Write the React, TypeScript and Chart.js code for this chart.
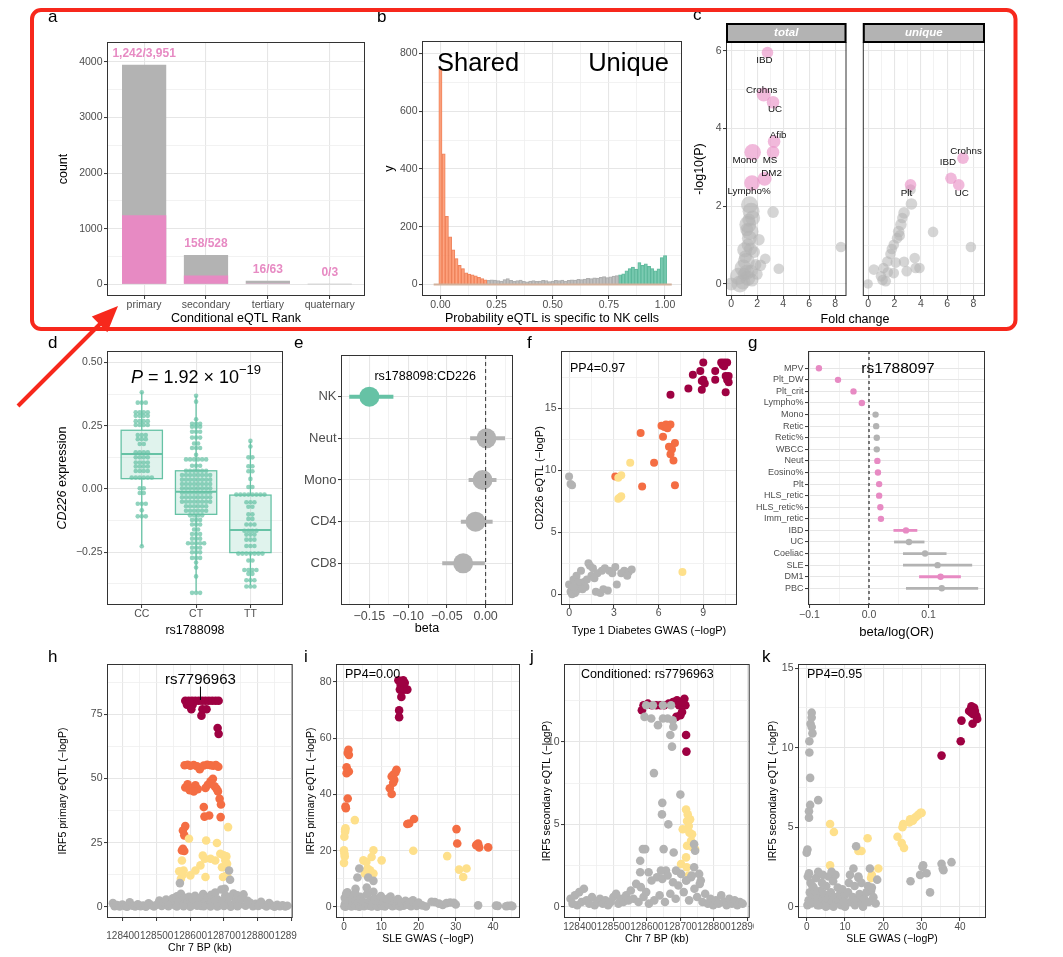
import React, { useEffect, useRef } from 'react';
import { Chart, registerables } from 'chart.js';

Chart.register(...registerables);

const FONT = "'Liberation Sans', Arial, Helvetica, sans-serif";
const TICK = '#4d4d4d';
const PINK = '#e78ac3';
const GRAY = '#b3b3b3';
const GREEN = '#66c2a5';
const DARK = '#9e0142';
const ORANGE = '#f46d43';
const YELLOW = '#fee08b';

// ---------- a ----------
const rankCats = ['primary', 'secondary', 'tertiary', 'quaternary'];
const rankTotal = [3951, 528, 63, 3];
const rankUnique = [1242, 158, 16, 0];

// ---------- b ----------
const histBinWidth = 1 / 70;
const histShared = [748, 452, 236, 165, 120, 90, 66, 55, 40, 36, 33, 30, 25, 20, 16];
const histMiddle = [14, 16, 15, 13, 12, 17, 20, 14, 11, 13, 15, 11, 9, 12, 13, 11, 12, 14, 13, 10, 12, 14, 13, 15, 12, 14, 16, 15, 18, 17, 19, 21, 20, 23, 22, 25, 27, 24, 26, 29, 31];
const histUnique = [33, 37, 47, 55, 60, 53, 76, 66, 71, 63, 55, 47, 54, 93, 100];

// ---------- c ---------- [fold change, -log10 P, size]
const cTotalPink = [[2.79, 5.96, 5.8], [2.5, 4.88, 7], [3.22, 4.68, 6.3], [3.3, 3.67, 6.3], [3.22, 3.39, 6.3], [1.65, 3.39, 8.3], [2.57, 2.71, 7], [1.6, 2.6, 7.8]];
const cTotalLabels = ['IBD', 'Crohns', 'UC', 'Afib', 'MS', 'Mono', 'DM2', 'Lympho%'];
const cTotalGray = [[3.22, 1.85, 5.8], [8.44, 0.95, 5.3], [3.66, 0.39, 5.3], [2.25, 0.48, 5.8], [2.62, 0.65, 5.3], [2.13, 1.14, 5.8], [1.77, 0.82, 5.8], [1.41, 2.04, 8.5], [1.53, 1.87, 8.5], [1.28, 1.53, 8.5], [1.45, 1.35, 8.5], [1.4, 1.18, 7.5], [1.04, 0.88, 7.5], [1.16, 0.58, 8.5], [0.92, 0.41, 8.5], [0.56, 0.2, 8.5], [0, 0, 6.5], [0.68, 0, 8.5], [1.28, 0.15, 7.5], [1.53, 0.33, 6.5], [1.65, 1.7, 7.5], [1.3, 1.0, 6.5], [1.1, 0.7, 6.5], [1.5, 0.9, 6.5], [1.9, 0.5, 5.5], [1.2, 0.3, 7.5], [0.9, 0.05, 7.5], [1.6, 0.1, 6.5], [2.0, 0.25, 5.5], [1.35, 1.65, 6.5], [1.2, 1.4, 6.5], [1.0, 0.25, 6.5]];
const cUniquePink = [[7.2, 3.24, 5.8], [6.29, 2.72, 5.8], [6.88, 2.55, 5.8], [3.22, 2.55, 5.8]];
const cUniqueLabels = ['Crohns', 'IBD', 'UC', 'Plt'];
const cUniqueGray = [[3.22, 2.43, 5.3], [3.29, 2.06, 5.8], [2.73, 1.83, 5.8], [2.49, 1.53, 5.8], [2.32, 1.35, 5.8], [2.2, 1.18, 5.3], [1.95, 1.01, 5.3], [4.93, 1.34, 5.3], [7.8, 0.95, 5.3], [1.7, 0.77, 5.3], [1.46, 0.58, 5.3], [1.17, 0.41, 5.3], [0.98, 0.2, 5.3], [0, 0, 4.8], [0.44, 0.37, 5.3], [3.54, 0.67, 5.3], [3.9, 0.41, 5.3], [3.61, 0.41, 5.3], [2.73, 0.57, 5.3], [2.93, 0.33, 5.3], [1.34, 0.07, 5.3], [1.95, 0.28, 5.3], [2.6, 1.7, 5.3], [2.4, 1.25, 5.3], [1.8, 0.9, 5.3], [1.5, 0.3, 5.3], [1.1, 0.1, 5.3], [2.1, 0.55, 5.3]];
const cTotalLabelOffset = [[-3, 8], [-2, -4], [2, 7], [4, -6], [-3, 8], [-8, 8], [7, -5], [-3, 8]];
const cUniqueLabelOffset = [[3, -7], [-3, -16], [3, 8], [-4, 8]];

// ---------- d ---------- dot rows [expression, count]
const genotypes = ['CC', 'CT', 'TT'];
const dotsCC = [[0.382, 1], [0.341, 3], [0.303, 4], [0.289, 4], [0.268, 4], [0.253, 4], [0.213, 3], [0.197, 3], [0.178, 2], [0.145, 4], [0.125, 4], [0.105, 4], [0.089, 4], [0.071, 4], [0.045, 6], [0.003, 2], [-0.016, 2], [-0.058, 3], [-0.084, 1], [-0.108, 3], [-0.226, 1]];
const dotsCT = [[0.368, 1], [0.345, 1], [0.275, 1], [0.258, 3], [0.246, 3], [0.226, 3], [0.203, 3], [0.18, 2], [0.162, 3], [0.135, 1], [0.117, 6], [0.092, 3], [0.072, 6], [0.055, 8], [0.037, 8], [0.02, 8], [0.003, 8], [-0.015, 8], [-0.033, 8], [-0.05, 8], [-0.068, 6], [-0.086, 6], [-0.104, 4], [-0.122, 3], [-0.14, 3], [-0.16, 2], [-0.178, 3], [-0.196, 3], [-0.214, 5], [-0.232, 3], [-0.25, 3], [-0.272, 3], [-0.29, 1], [-0.31, 1], [-0.345, 1], [-0.41, 3]];
const dotsTT = [[0.19, 1], [0.168, 1], [0.125, 2], [0.09, 2], [0.07, 2], [0.04, 1], [0.008, 2], [-0.022, 8], [-0.052, 3], [-0.07, 2], [-0.1, 2], [-0.118, 2], [-0.14, 3], [-0.165, 4], [-0.18, 3], [-0.2, 3], [-0.225, 3], [-0.255, 7], [-0.282, 2], [-0.32, 4], [-0.335, 2], [-0.36, 3], [-0.385, 3]];
const boxLow = [-0.225, -0.405, -0.379];
const boxQ1 = [0.041, -0.1, -0.251];
const boxMed = [0.138, -0.011, -0.162];
const boxQ3 = [0.232, 0.072, -0.024];
const boxHigh = [0.382, 0.367, 0.189];

// ---------- e ----------
const eCells = ['NK', 'Neut', 'Mono', 'CD4', 'CD8'];
const eBeta = [-0.15, 0.001, -0.004, -0.013, -0.029];
const eLow = [-0.176, -0.02, -0.022, -0.032, -0.056];
const eHigh = [-0.119, 0.025, 0.014, 0.009, -0.001];
const eIsNK = [1, 0, 0, 0, 0];

// ---------- f ---------- [T1D GWAS -logP, eQTL -logP]
const fDark = [[6.8, 16.1], [8.0, 16.6], [8.9, 16.5], [8.3, 17.7], [8.8, 18.0], [9.0, 18.7], [9.0, 17.3], [9.1, 17.0], [9.8, 18.0], [9.8, 17.3], [10.2, 18.7], [10.3, 18.5], [10.4, 18.7], [10.6, 18.7], [10.5, 17.6], [10.6, 17.3], [10.7, 17.1], [10.5, 16.3], [10.7, 17.6], [10.4, 18.4], [8.9, 17.2]];
const fOrange = [[4.8, 13.0], [6.2, 13.6], [6.4, 13.5], [6.5, 13.7], [6.8, 13.7], [6.6, 13.4], [6.3, 12.7], [6.7, 11.9], [6.9, 11.7], [7.1, 12.2], [6.8, 11.3], [7.0, 10.8], [5.7, 10.6], [4.9, 8.7], [7.1, 8.8], [3.1, 9.5]];
const fYellow = [[4.1, 10.6], [3.5, 9.6], [3.3, 9.4], [3.3, 7.7], [3.5, 7.9], [3.4, 7.8], [7.6, 1.8]];
const fGray = [[0.0, 9.5], [0.1, 8.9], [0.2, 8.8], [0.0, 0.8], [0.1, 0.2], [0.2, 0.5], [0.3, 1.2], [0.4, 0.1], [0.5, 1.5], [0.7, 0.7], [0.8, 1.9], [1.0, 1.0], [1.1, 0.6], [1.3, 2.5], [1.4, 2.3], [1.5, 1.5], [1.6, 2.1], [1.8, 0.2], [1.9, 1.7], [2.1, 0.1], [2.2, 1.9], [2.4, 2.1], [2.6, 0.3], [2.7, 1.9], [2.9, 1.7], [3.1, 2.2], [3.2, 0.8], [3.5, 1.7], [3.7, 1.9], [4.0, 1.8], [4.2, 2.0], [3.9, 1.5], [0.2, 0.0], [0.5, 0.3], [0.9, 0.4], [1.2, 1.2], [1.7, 1.3], [2.3, 0.4], [0.6, 1.0], [0.3, 0.6]];

// ---------- g ----------
const gTraits = ['MPV', 'Plt_DW', 'Plt_crit', 'Lympho%', 'Mono', 'Retic', 'Retic%', 'WBCC', 'Neut', 'Eosino%', 'Plt', 'HLS_retic', 'HLS_retic%', 'Imm_retic', 'IBD', 'UC', 'Coeliac', 'SLE', 'DM1', 'PBC'];
const gBeta = [-0.084, -0.052, -0.026, -0.012, 0.011, 0.012, 0.013, 0.013, 0.014, 0.015, 0.017, 0.017, 0.019, 0.02, 0.062, 0.067, 0.094, 0.115, 0.12, 0.122];
const gLow = [-0.084, -0.052, -0.026, -0.012, 0.011, 0.012, 0.013, 0.013, 0.014, 0.015, 0.017, 0.017, 0.019, 0.02, 0.041, 0.042, 0.057, 0.057, 0.084, 0.062];
const gHigh = [-0.084, -0.052, -0.026, -0.012, 0.011, 0.012, 0.013, 0.013, 0.014, 0.015, 0.017, 0.017, 0.019, 0.02, 0.081, 0.093, 0.13, 0.173, 0.154, 0.183];
const gColoc = [1, 1, 1, 1, 0, 0, 0, 0, 1, 1, 1, 1, 1, 1, 1, 0, 0, 0, 1, 0];

// ---------- h ---------- [BP kb, -logP]
const hDark = [[128585, 80.3], [128595, 80.3], [128605, 80.3], [128615, 80.3], [128625, 80.3], [128635, 80.3], [128645, 80.3], [128655, 80.3], [128665, 80.3], [128675, 80.3], [128684, 80.3], [128590, 78.8], [128607, 78.8], [128598, 79.6], [128603, 77.0], [128636, 77.0], [128648, 77.0], [128633, 74.5], [128681, 69.7], [128684, 67.4]];
const hOrange = [[128583, 55.2], [128592, 55.4], [128600, 55.0], [128610, 55.3], [128620, 54.8], [128628, 53.6], [128640, 55.1], [128650, 55.4], [128660, 55.2], [128668, 55.0], [128676, 55.3], [128683, 54.6], [128585, 46.5], [128592, 47.8], [128598, 45.5], [128606, 46.2], [128615, 47.4], [128622, 45.9], [128645, 46.3], [128652, 47.6], [128660, 48.9], [128667, 49.9], [128672, 47.0], [128678, 46.0], [128682, 45.0], [128610, 45.0], [128640, 38.9], [128656, 35.6], [128642, 35.2], [128687, 42.1], [128691, 39.9], [128690, 35.0], [128585, 31.5], [128578, 29.8], [128582, 27.9], [128578, 22.7], [128582, 21.8], [128575, 22.0]];
const hYellow = [[128712, 31.1], [128596, 26.6], [128647, 25.9], [128679, 24.9], [128575, 18.1], [128637, 20.0], [128643, 18.8], [128660, 18.8], [128674, 18.1], [128699, 20.1], [128709, 16.8], [128567, 13.9], [128580, 14.2], [128615, 14.2], [128630, 16.2], [128694, 15.5], [128572, 11.0], [128600, 12.3], [128645, 11.7], [128697, 11.7], [128709, 12.3], [128704, 18.1], [128689, 20.7], [128707, 19.7], [128577, 12.5]];
const hGray = [[128569, 9.3], [128715, 14.2], [128718, 10.6], [128702, 7.1], [128370, 1.5], [128375, 0.3], [128382, 0.8], [128390, 0.2], [128398, 1.0], [128405, 0.4], [128412, 0.1], [128420, 1.8], [128428, 0.5], [128436, 0.2], [128444, 1.1], [128452, 0.3], [128460, 0.6], [128468, 0.1], [128476, 1.4], [128484, 0.7], [128492, 0.2], [128500, 0.9], [128508, 2.5], [128515, 0.4], [128522, 1.7], [128528, 2.9], [128535, 0.3], [128540, 1.2], [128548, 3.4], [128555, 0.6], [128560, 4.2], [128566, 2.0], [128572, 5.1], [128578, 0.8], [128584, 3.6], [128590, 1.5], [128596, 4.0], [128602, 0.5], [128608, 2.8], [128614, 4.4], [128620, 1.1], [128626, 3.2], [128632, 0.4], [128638, 5.0], [128644, 2.2], [128650, 3.8], [128656, 0.9], [128662, 4.8], [128668, 1.9], [128674, 5.6], [128680, 3.0], [128686, 0.6], [128692, 6.8], [128698, 2.6], [128704, 4.5], [128710, 1.3], [128716, 3.9], [128722, 0.7], [128728, 5.2], [128734, 2.1], [128740, 4.6], [128746, 1.0], [128752, 3.3], [128758, 4.9], [128764, 0.5], [128770, 2.4], [128778, 1.6], [128786, 0.3], [128794, 1.2], [128802, 0.4], [128810, 2.0], [128818, 0.8], [128826, 0.2], [128834, 1.5], [128842, 0.6], [128850, 0.1], [128858, 0.9], [128866, 0.3], [128874, 0.7], [128882, 0.2], [128888, 0.5], [128560, 0.2], [128600, 0.1], [128640, 0.3], [128680, 0.2], [128720, 0.1], [128700, 0.4], [128580, 0.3], [128620, 0.5], [128660, 0.2], [128740, 0.3]];

// ---------- i ---------- [SLE GWAS -logP, IRF5 primary eQTL -logP]
const iDark = [[14.6, 80.6], [15.9, 80.6], [15.2, 79.0], [15.0, 77.3], [16.1, 77.3], [17.0, 77.3], [15.4, 74.7], [14.8, 69.9], [14.8, 67.5], [16.3, 79.7], [15.6, 80.0]];
const iOrange = [[1.2, 55.9], [1.3, 54.1], [1.0, 54.8], [0.7, 49.7], [1.3, 48.2], [0.7, 47.6], [1.0, 38.6], [0.4, 35.7], [0.5, 35.1], [14.1, 48.8], [13.2, 47.0], [12.8, 46.4], [13.5, 45.2], [13.2, 44.2], [12.3, 42.2], [12.8, 40.2], [17.5, 29.7], [18.8, 31.3], [17.0, 29.5], [30.2, 27.7], [30.4, 22.6], [36.0, 22.6], [36.3, 21.2], [38.7, 21.2], [35.5, 22.0], [13.8, 47.8]];
const iYellow = [[0.1, 25.0], [0.3, 26.8], [0.4, 28.0], [0.0, 20.2], [0.1, 19.0], [0.0, 15.7], [2.9, 30.9], [5.2, 16.6], [6.0, 16.0], [7.9, 20.2], [7.4, 17.8], [10.1, 16.6], [18.6, 20.0], [27.7, 18.1], [30.9, 13.3], [32.9, 13.7], [32.0, 10.7], [7.0, 13.1], [6.3, 13.7], [5.6, 11.9], [7.9, 11.9], [0.2, 18.0], [0.3, 27.5]];
const iGray = [[4.1, 13.7], [3.6, 10.5], [6.5, 10.5], [7.9, 9.3], [6.1, 6.9], [7.9, 5.4], [3.1, 6.5], [0.1, 0.3], [0.3, 1.2], [0.5, 2.5], [0.7, 4.0], [0.9, 5.2], [0.2, 3.3], [0.4, 0.1], [1.1, 1.8], [1.4, 0.6], [1.7, 3.1], [2.0, 0.2], [2.3, 2.2], [2.6, 4.3], [2.9, 1.0], [3.2, 0.4], [3.5, 2.8], [3.8, 1.5], [4.1, 0.1], [4.4, 3.6], [4.7, 0.8], [5.0, 2.0], [5.4, 0.3], [5.8, 1.2], [6.2, 4.6], [6.6, 0.5], [7.0, 2.4], [7.4, 0.2], [7.8, 1.6], [8.2, 3.0], [8.6, 0.7], [9.0, 0.1], [9.4, 2.1], [9.8, 3.4], [10.2, 0.4], [10.6, 1.3], [11.0, 0.2], [11.5, 2.6], [12.0, 0.9], [12.5, 3.7], [13.0, 0.3], [13.5, 1.9], [14.0, 0.6], [14.5, 2.8], [15.0, 0.2], [15.5, 1.4], [16.0, 0.5], [16.5, 2.2], [17.0, 0.8], [17.5, 1.7], [18.0, 0.3], [18.5, 2.4], [19.0, 1.1], [19.5, 0.4], [20.0, 1.6], [21.0, 0.6], [22.0, 0.2], [23.5, 1.9], [24.4, 1.8], [25.5, 1.2], [26.5, 0.7], [27.5, 1.4], [28.5, 1.6], [29.5, 1.5], [30.0, 0.9], [36.0, 0.6], [41.3, 0.4], [44.0, 0.4], [44.9, 0.5], [43.5, 0.3], [40.8, 0.5], [45.2, 0.3], [0.6, 4.8], [3.0, 5.0], [9.9, 3.9], [11.8, 3.0]];

// ---------- j ---------- [BP kb, IRF5 secondary eQTL -logP]
const jDark = [[128585, 11.9], [128590, 12.2], [128603, 12.3], [128615, 12.2], [128628, 12.2], [128640, 12.2], [128652, 12.2], [128665, 12.3], [128678, 12.4], [128690, 12.5], [128700, 12.4], [128712, 12.6], [128715, 12.2], [128705, 11.8], [128700, 11.6], [128688, 11.5], [128717, 10.4], [128718, 9.4], [128696, 12.2], [128708, 12.4]];
const jYellow = [[128720, 5.2], [128722, 5.6], [128725, 4.9], [128729, 5.3], [128727, 4.5], [128735, 4.4], [128707, 4.7], [128720, 3.7], [128737, 3.6], [128744, 3.5], [128732, 4.0], [128702, 2.6], [128719, 2.4], [128717, 3.0], [128725, 1.9], [128717, 5.9]];
const jGray = [[128598, 12.2], [128618, 12.2], [128648, 12.2], [128672, 12.2], [128593, 11.5], [128613, 11.4], [128648, 11.4], [128662, 11.4], [128677, 11.3], [128633, 11.0], [128679, 10.9], [128670, 10.4], [128675, 9.7], [128621, 8.1], [128646, 6.3], [128645, 5.6], [128700, 6.8], [128664, 5.0], [128650, 3.5], [128595, 3.5], [128588, 3.5], [128680, 3.3], [128580, 2.8], [128580, 2.1], [128605, 2.1], [128642, 2.2], [128657, 2.2], [128687, 2.2], [128741, 3.8], [128744, 3.4], [128741, 2.4], [128756, 2.0], [128761, 1.6], [128717, 1.6], [128732, 1.8], [128372, 0.5], [128378, 0.2], [128385, 0.7], [128392, 0.1], [128398, 0.9], [128405, 0.3], [128412, 1.1], [128420, 0.4], [128428, 0.2], [128436, 0.6], [128444, 0.1], [128452, 0.3], [128460, 0.5], [128468, 0.2], [128476, 0.4], [128484, 0.1], [128492, 0.3], [128500, 0.6], [128508, 0.8], [128515, 0.2], [128522, 0.5], [128530, 0.3], [128538, 0.7], [128545, 0.4], [128552, 1.0], [128560, 0.5], [128568, 1.4], [128575, 0.3], [128582, 1.2], [128590, 0.6], [128598, 0.9], [128606, 0.2], [128614, 1.6], [128622, 0.4], [128630, 1.8], [128638, 0.7], [128646, 1.7], [128654, 0.3], [128662, 1.9], [128670, 0.8], [128678, 1.5], [128686, 0.5], [128694, 1.3], [128702, 2.0], [128710, 0.9], [128718, 1.6], [128726, 0.4], [128734, 1.9], [128742, 1.1], [128750, 0.6], [128758, 1.4], [128766, 0.3], [128774, 0.8], [128782, 0.2], [128790, 0.5], [128798, 0.1], [128806, 0.4], [128814, 0.2], [128822, 0.7], [128830, 0.3], [128838, 0.1], [128846, 0.5], [128854, 0.2], [128862, 0.4], [128870, 0.1], [128878, 0.3], [128886, 0.2]];

// ---------- k ---------- [SLE GWAS -logP, IRF5 secondary eQTL -logP]
const kDark = [[43.0, 12.6], [43.7, 12.5], [42.4, 12.3], [43.9, 12.3], [44.3, 12.0], [43.5, 12.1], [43.3, 11.5], [40.4, 11.7], [40.2, 10.4], [35.2, 9.5], [44.5, 11.8], [43.0, 12.2]];
const kYellow = [[30.0, 5.9], [29.2, 5.8], [28.3, 5.6], [27.0, 5.5], [26.8, 5.3], [25.2, 5.2], [25.0, 5.0], [23.7, 4.4], [24.8, 4.0], [25.4, 3.7], [15.9, 4.3], [14.3, 3.5], [13.5, 3.5], [6.1, 5.2], [7.1, 4.7], [6.1, 2.6], [17.0, 2.0], [16.8, 1.8], [18.7, 2.4], [28.8, 5.7], [29.7, 5.9], [27.7, 5.4]];
const kGray = [[1.3, 12.2], [1.3, 11.9], [1.0, 11.5], [1.3, 11.3], [1.5, 10.9], [0.7, 10.4], [0.7, 9.7], [0.9, 8.1], [0.9, 6.4], [0.6, 6.0], [0.6, 5.6], [3.0, 6.7], [0.2, 3.6], [0.0, 3.4], [12.9, 3.8], [12.2, 2.4], [13.5, 1.8], [14.3, 1.5], [16.5, 2.4], [18.4, 1.7], [11.3, 2.0], [27.1, 1.6], [29.6, 2.0], [30.2, 2.5], [30.4, 2.6], [31.3, 2.1], [32.2, 0.9], [35.2, 2.7], [35.5, 2.4], [35.7, 2.3], [37.8, 2.8], [0.2, 0.1], [0.5, 0.4], [0.8, 0.9], [1.0, 1.5], [0.3, 1.9], [0.6, 2.1], [1.2, 0.2], [1.5, 0.7], [1.8, 1.2], [2.1, 0.3], [2.4, 1.8], [2.7, 0.6], [3.0, 2.2], [3.3, 0.1], [3.6, 1.0], [3.9, 0.4], [4.2, 2.0], [4.5, 0.8], [4.8, 0.2], [5.1, 1.3], [5.4, 0.5], [5.7, 1.9], [6.0, 0.1], [6.3, 0.9], [6.6, 0.3], [6.9, 1.6], [7.2, 0.6], [7.5, 2.0], [7.8, 0.2], [8.1, 1.2], [8.4, 0.4], [8.7, 0.8], [9.0, 0.1], [9.3, 1.1], [9.6, 0.5], [9.9, 0.7], [10.2, 0.2], [10.8, 0.9], [11.4, 0.3], [12.0, 0.6], [12.6, 0.1], [13.2, 0.4], [13.8, 0.8], [14.4, 0.2], [15.0, 0.5], [15.6, 0.9], [16.2, 0.3], [16.8, 1.0], [17.4, 0.6], [18.0, 0.2], [2.0, 1.0], [4.0, 1.5], [6.5, 2.2], [1.5, 1.3], [0.9, 0.3], [2.8, 0.1], [5.0, 0.0], [7.0, 0.0], [9.5, 0.3], [11.0, 1.5], [12.5, 1.3], [13.5, 1.9], [16.0, 1.3], [17.0, 1.2], [14.7, 0.0], [10.0, 0.0]];

// ================= helpers =================
const near = (arr: number[], v: number) => arr.some((m) => Math.abs(m - v) < 1e-7);
const neg = (s: string) => s.replace('-', '\u2212');

type AxisSpec = {
  min: number; max: number; majors: number[]; minors?: number[];
  fmt?: (v: number) => string; reverse?: boolean; font?: number;
  title?: string; titleFont?: number; size: number; pad?: number;
  hideLabels?: boolean; tickLen?: number;
};

function scale(ax: AxisSpec, horizontal: boolean): any {
  const majors = ax.majors;
  const all = [...majors, ...(ax.minors || [])].sort((p, q) => p - q);
  const isMaj = (c: any) => c && c.tick && near(majors, c.tick.value);
  return {
    type: 'linear', position: horizontal ? 'bottom' : 'left',
    min: ax.min, max: ax.max, reverse: !!ax.reverse, offset: false,
    afterBuildTicks: (s: any) => { s.ticks = all.map((v) => ({ value: v })); },
    afterFit: (s: any) => {
      if (horizontal) s.height = ax.size; else s.width = ax.size;
      s.paddingLeft = 0; s.paddingRight = 0; s.paddingTop = 0; s.paddingBottom = 0;
    },
    grid: {
      offset: false, drawTicks: true, tickLength: ax.tickLen ?? 3, tickWidth: 1,
      color: (c: any) => (isMaj(c) ? '#e6e6e6' : '#efefef'),
      lineWidth: (c: any) => (isMaj(c) ? 1.1 : 0.8),
      tickColor: (c: any) => (isMaj(c) && !ax.hideLabels ? '#333333' : 'rgba(0,0,0,0)'),
    },
    border: { display: false },
    ticks: {
      display: !ax.hideLabels, autoSkip: false, maxRotation: 0, minRotation: 0,
      padding: ax.pad ?? 1.5, color: TICK, font: { family: FONT, size: ax.font ?? 10.5 },
      callback: (v: any) => (near(majors, Number(v)) ? (ax.fmt ? ax.fmt(Number(v)) : String(v)) : ''),
    },
    title: ax.title
      ? { display: true, text: ax.title, color: '#000', padding: 0, font: { family: FONT, size: ax.titleFont ?? 12.5 } }
      : { display: false },
  };
}

function txt(ctx: any, s: string, x: number, y: number, size: number, o: any = {}) {
  ctx.save();
  ctx.font = `${o.style || ''} ${o.weight || ''} ${size}px ${FONT}`;
  ctx.fillStyle = o.color || '#000';
  ctx.textAlign = o.align || 'center';
  ctx.textBaseline = o.baseline || 'middle';
  ctx.fillText(s, x, y);
  ctx.restore();
}

const framePlugin = {
  id: 'frame',
  afterDatasetsDraw(chart: any) {
    const { ctx, chartArea: a } = chart;
    ctx.save();
    ctx.strokeStyle = '#333333';
    ctx.lineWidth = 1;
    ctx.strokeRect(a.left + 0.5, a.top + 0.5, a.right - a.left - 1, a.bottom - a.top - 1);
    ctx.restore();
  },
};

const sc = (pts: number[][], color: string, r: number) => ({
  type: 'scatter', data: pts.map((p) => ({ x: p[0], y: p[1] })),
  backgroundColor: color, borderWidth: 0, pointRadius: r, pointHoverRadius: r,
});

const vDash = (color: string, dash: number[]) => ({
  id: 'vdash',
  afterDatasetsDraw(chart: any) {
    const { ctx, chartArea: a, scales } = chart;
    const px = scales.x.getPixelForValue(0);
    ctx.save(); ctx.strokeStyle = color; ctx.lineWidth = 1; ctx.setLineDash(dash);
    ctx.beginPath(); ctx.moveTo(px, a.top); ctx.lineTo(px, a.bottom); ctx.stroke(); ctx.restore();
  },
});

const errorBars = (lo: number[], hi: number[], cols: string[], lw: number) => ({
  id: 'errbars',
  beforeDatasetsDraw(chart: any) {
    const { ctx, scales: { x, y } } = chart;
    ctx.save(); ctx.lineWidth = lw;
    lo.forEach((l, i) => {
      if (hi[i] - l <= 0) return;
      const py = y.getPixelForValue(i + 1);
      ctx.strokeStyle = cols[i];
      ctx.beginPath(); ctx.moveTo(x.getPixelForValue(l), py); ctx.lineTo(x.getPixelForValue(hi[i]), py); ctx.stroke();
    });
    ctx.restore();
  },
});

const cornerText = (s: string, dx: number, dy: number, size: number) => ({
  id: 'corner',
  afterDatasetsDraw(chart: any) {
    const a = chart.chartArea;
    txt(chart.ctx, s, a.left + dx, a.top + dy, size, { align: 'left' });
  },
});

type BoxProps = { frame: number[]; L: number; B: number; padT?: number; padR?: number; make: () => any };

function ChartBox(p: BoxProps) {
  const ref = useRef<HTMLCanvasElement>(null);
  const padT = p.padT ?? 6;
  const padR = p.padR ?? 6;
  const w = Math.round(p.frame[2] - p.frame[0] + p.L + padR);
  const h = Math.round(p.frame[3] - p.frame[1] + padT + p.B);
  useEffect(() => {
    const cfg = p.make();
    cfg.options = {
      ...(cfg.options || {}), animation: false, responsive: false, events: [],
      layout: { padding: { top: padT, right: padR, left: 0, bottom: 0 } },
      plugins: { legend: { display: false }, tooltip: { enabled: false }, title: { display: false } },
    };
    cfg.plugins = [...(cfg.plugins || []), framePlugin];
    const ch = new Chart(ref.current as HTMLCanvasElement, cfg);
    return () => ch.destroy();
  }, []);
  return (
    <canvas ref={ref} width={w} height={h}
      style={{ position: 'absolute', left: p.frame[0] - p.L, top: p.frame[1] - padT, width: w, height: h }} />
  );
}

// ================= panels =================
const panelA = () => ({
  type: 'bar',
  data: {
    datasets: [
      { data: rankUnique.map((v, i) => ({ x: i + 1, y: v })), backgroundColor: PINK, grouped: false, barPercentage: 0.715, categoryPercentage: 1 },
      { data: rankTotal.map((v, i) => ({ x: i + 1, y: v })), backgroundColor: GRAY, grouped: false, barPercentage: 0.715, categoryPercentage: 1 },
    ],
  },
  options: {
    scales: {
      x: scale({ min: 0.4, max: 4.57, majors: [1, 2, 3, 4], fmt: (v) => rankCats[v - 1], title: 'Conditional eQTL Rank', size: 30, pad: 0 }, true),
      y: scale({ min: -210, max: 4359, majors: [0, 1000, 2000, 3000, 4000], minors: [500, 1500, 2500, 3500], title: 'count', size: 51 }, false),
    },
  },
  plugins: [{
    id: 'alabels',
    afterDatasetsDraw(chart: any) {
      const { ctx, scales: { x, y } } = chart;
      rankTotal.forEach((t, i) => {
        txt(ctx, `${rankUnique[i].toLocaleString('en-US')}/${t.toLocaleString('en-US')}`,
          x.getPixelForValue(i + 1), y.getPixelForValue(t) - 11, 12, { weight: 'bold', color: PINK });
      });
    },
  }],
});

const panelB = () => {
  const bar = (vals: number[], start: number, bg: string, bd: string) => ({
    type: 'bar', data: vals.map((v, i) => ({ x: (start + i) * histBinWidth, y: v })),
    backgroundColor: bg, borderColor: bd, borderWidth: 0.6, grouped: false, barPercentage: 1, categoryPercentage: 1,
  });
  return {
    type: 'bar',
    data: {
      datasets: [
        { type: 'line', data: [{ x: -0.03, y: 0 }, { x: 1.03, y: 0 }], borderColor: '#d2b19c', borderWidth: 2, pointRadius: 0 },
        bar(histShared, 0, 'rgba(252,141,98,0.8)', 'rgba(230,118,78,0.9)'),
        bar(histMiddle, histShared.length, 'rgba(179,179,179,0.8)', 'rgba(165,165,165,0.9)'),
        bar(histUnique, histShared.length + histMiddle.length, 'rgba(102,194,165,0.85)', 'rgba(80,175,145,0.9)'),
      ],
    },
    options: {
      scales: {
        x: scale({ min: -0.082, max: 1.0755, majors: [0, 0.25, 0.5, 0.75, 1], minors: [0.125, 0.375, 0.625, 0.875], fmt: (v) => v.toFixed(2), title: 'Probability eQTL is specific to NK cells', size: 30, pad: 0 }, true),
        y: scale({ min: -40, max: 843, majors: [0, 200, 400, 600, 800], minors: [100, 300, 500, 700], title: 'y', size: 40 }, false),
      },
    },
    plugins: [{
      id: 'btext',
      afterDatasetsDraw(chart: any) {
        const a = chart.chartArea;
        txt(chart.ctx, 'Shared', a.left + 15, a.top + 29.5, 25.5, { align: 'left', baseline: 'alphabetic' });
        txt(chart.ctx, 'Unique', a.right - 13, a.top + 29.5, 25.5, { align: 'right', baseline: 'alphabetic' });
      },
    }],
  };
};

const stripPlugin = (label: string) => ({
  id: 'strip',
  afterDraw(chart: any) {
    const { ctx, chartArea: a } = chart;
    ctx.save();
    ctx.fillStyle = '#b3b3b3';
    ctx.fillRect(a.left, a.top - 19, a.right - a.left, 19);
    ctx.strokeStyle = '#000';
    ctx.lineWidth = 2;
    ctx.strokeRect(a.left + 1, a.top - 18, a.right - a.left - 2, 18);
    ctx.restore();
    txt(ctx, label, (a.left + a.right) / 2, a.top - 9, 11.5, { color: '#fff', style: 'italic', weight: 'bold' });
  },
});

const labelPlugin = (pts: number[][], labels: string[], offs: number[][]) => ({
  id: 'clabels',
  afterDatasetsDraw(chart: any) {
    const { ctx, scales: { x, y } } = chart;
    pts.forEach((p, i) => {
      txt(ctx, labels[i], x.getPixelForValue(p[0]) + offs[i][0], y.getPixelForValue(p[1]) + offs[i][1], 9.8, { color: '#111' });
    });
  },
});

const bub = (pts: number[][], color: string) => ({
  data: pts.map((p) => ({ x: p[0], y: p[1], r: p[2] })), backgroundColor: color, borderWidth: 0, hoverRadius: 0,
});

const cX = () => scale({ min: -0.4, max: 8.87, majors: [0, 2, 4, 6, 8], minors: [1, 3, 5, 7], size: 20, pad: -1 }, true);
const cY = (hide: boolean) => scale({ min: -0.31, max: 6.23, majors: [0, 2, 4, 6], minors: [1, 3, 5], size: hide ? 0 : 34, hideLabels: hide, title: hide ? undefined : '-log10(P)' }, false);

const panelCLeft = () => ({
  type: 'bubble',
  data: { datasets: [bub(cTotalPink, 'rgba(231,138,195,0.6)'), bub(cTotalGray, 'rgba(179,179,179,0.55)')] },
  options: { scales: { x: cX(), y: cY(false) } },
  plugins: [labelPlugin(cTotalPink, cTotalLabels, cTotalLabelOffset), stripPlugin('total')],
});
const panelCRight = () => ({
  type: 'bubble',
  data: { datasets: [bub(cUniquePink, 'rgba(231,138,195,0.6)'), bub(cUniqueGray, 'rgba(179,179,179,0.55)')] },
  options: { scales: { x: cX(), y: cY(true) } },
  plugins: [labelPlugin(cUniquePink, cUniqueLabels, cUniqueLabelOffset), stripPlugin('unique')],
});

const DOT_DX = 0.074;
const dotRows = (rows: number[][], cx: number) => {
  const out: number[][] = [];
  rows.forEach(([v, n]) => { for (let k = 0; k < n; k++) out.push([cx + (k - (n - 1) / 2) * DOT_DX, v]); });
  return out;
};

const panelD = () => ({
  type: 'scatter',
  data: {
    datasets: [dotsCC, dotsCT, dotsTT].map((rows, i) => sc(dotRows(rows, i + 1), 'rgba(102,194,165,0.72)', 2.3)),
  },
  options: {
    scales: {
      x: scale({ min: 0.36, max: 3.6, majors: [1, 2, 3], fmt: (v) => genotypes[v - 1], title: 'rs1788098', size: 33, pad: 0 }, true),
      y: scale({ min: -0.458, max: 0.545, majors: [-0.25, 0, 0.25, 0.5], minors: [-0.375, -0.125, 0.125, 0.375], fmt: (v) => neg(v.toFixed(2)), size: 52 }, false),
    },
  },
  plugins: [{
    id: 'boxes',
    beforeDatasetsDraw(chart: any) {
      const { ctx, scales: { x, y } } = chart;
      ctx.save();
      ctx.strokeStyle = GREEN;
      ctx.lineWidth = 1.3;
      boxMed.forEach((m, i) => {
        const cx = x.getPixelForValue(i + 1);
        const hw = x.getPixelForValue(i + 1.38) - cx;
        const q1 = y.getPixelForValue(boxQ1[i]);
        const q3 = y.getPixelForValue(boxQ3[i]);
        ctx.beginPath();
        ctx.moveTo(cx, y.getPixelForValue(boxHigh[i])); ctx.lineTo(cx, q3);
        ctx.moveTo(cx, q1); ctx.lineTo(cx, y.getPixelForValue(boxLow[i]));
        ctx.stroke();
        ctx.fillStyle = 'rgba(102,194,165,0.2)';
        ctx.fillRect(cx - hw, q3, 2 * hw, q1 - q3);
        ctx.strokeRect(cx - hw, q3, 2 * hw, q1 - q3);
        ctx.lineWidth = 2;
        ctx.beginPath(); ctx.moveTo(cx - hw, y.getPixelForValue(m)); ctx.lineTo(cx + hw, y.getPixelForValue(m)); ctx.stroke();
        ctx.lineWidth = 1.3;
      });
      ctx.restore();
    },
    afterDraw(chart: any) {
      const { ctx, chartArea: a } = chart;
      ctx.save();
      ctx.translate(a.left - 44, (a.top + a.bottom) / 2);
      ctx.rotate(-Math.PI / 2);
      ctx.fillStyle = '#000';
      ctx.textBaseline = 'middle';
      ctx.font = `italic 12.5px ${FONT}`;
      const w1 = ctx.measureText('CD226').width;
      ctx.font = `12.5px ${FONT}`;
      const w2 = ctx.measureText(' expression').width;
      const sx = -(w1 + w2) / 2;
      ctx.font = `italic 12.5px ${FONT}`;
      ctx.textAlign = 'left';
      ctx.fillText('CD226', sx, 0);
      ctx.font = `12.5px ${FONT}`;
      ctx.fillText(' expression', sx + w1, 0);
      ctx.restore();
      ctx.save();
      ctx.fillStyle = '#000';
      ctx.textBaseline = 'alphabetic';
      ctx.textAlign = 'left';
      ctx.font = `italic 18px ${FONT}`;
      const p1 = ctx.measureText('P').width;
      ctx.font = `18px ${FONT}`;
      const p2 = ctx.measureText(' = 1.92 \u00d7 10').width;
      ctx.font = `13px ${FONT}`;
      const p3 = ctx.measureText('\u221219').width;
      const x0 = (a.left + a.right) / 2 - (p1 + p2 + p3) / 2 + 1;
      const base = a.top + 32;
      ctx.font = `italic 18px ${FONT}`;
      ctx.fillText('P', x0, base);
      ctx.font = `18px ${FONT}`;
      ctx.fillText(' = 1.92 \u00d7 10', x0 + p1, base);
      ctx.font = `13px ${FONT}`;
      ctx.fillText('\u221219', x0 + p1 + p2, base - 9);
      ctx.restore();
    },
  }],
});

const panelE = () => ({
  type: 'scatter',
  data: {
    datasets: [{
      data: eBeta.map((b, i) => ({ x: b, y: i + 1 })),
      backgroundColor: eIsNK.map((n) => (n ? GREEN : GRAY)), borderWidth: 0, pointRadius: 10, pointHoverRadius: 10,
    }],
  },
  options: {
    scales: {
      x: scale({ min: -0.1866, max: 0.0353, majors: [-0.15, -0.1, -0.05, 0], minors: [-0.175, -0.125, -0.075, -0.025, 0.025], fmt: (v) => neg(v.toFixed(2)), title: 'beta', size: 31, font: 12.5, pad: 1.5 }, true),
      y: scale({ min: 0, max: 6, majors: [1, 2, 3, 4, 5], reverse: true, fmt: (v) => eCells[v - 1], size: 45, font: 13 }, false),
    },
  },
  plugins: [
    errorBars(eLow, eHigh, eIsNK.map((n) => (n ? GREEN : GRAY)), 4),
    vDash('#333333', [4, 3]),
    {
      id: 'etext',
      afterDatasetsDraw(chart: any) {
        const { scales: { x, y } } = chart;
        txt(chart.ctx, 'rs1788098:CD226', x.getPixelForValue(-0.078), y.getPixelForValue(0.52), 12.5);
      },
    },
  ],
});

const panelF = () => ({
  type: 'scatter',
  data: { datasets: [sc(fGray, GRAY, 4), sc(fYellow, YELLOW, 4), sc(fOrange, ORANGE, 4), sc(fDark, DARK, 4)] },
  options: {
    scales: {
      x: scale({ min: -0.54, max: 11.26, majors: [0, 3, 6, 9], minors: [1.5, 4.5, 7.5, 10.5], title: 'Type 1 Diabetes GWAS (\u2212logP)', titleFont: 11, size: 33, pad: -1 }, true),
      y: scale({ min: -0.86, max: 19.62, majors: [0, 5, 10, 15], minors: [2.5, 7.5, 12.5, 17.5], title: 'CD226 eQTL (\u2212logP)', titleFont: 11, size: 28 }, false),
    },
  },
  plugins: [cornerText('PP4=0.97', 9, 18, 12.5)],
});

const panelG = () => {
  const cols = gColoc.map((c) => (c ? PINK : GRAY));
  return {
    type: 'scatter',
    data: {
      datasets: [{
        data: gBeta.map((b, i) => ({ x: b, y: i + 1 })), backgroundColor: cols, borderWidth: 0, pointRadius: 3.2, pointHoverRadius: 3.2,
      }],
    },
    options: {
      scales: {
        x: scale({ min: -0.1023, max: 0.1945, majors: [-0.1, 0, 0.1], minors: [-0.05, 0.05, 0.15], fmt: (v) => neg(v.toFixed(1)), title: 'beta/log(OR)', titleFont: 13, size: 35, pad: 0.5 }, true),
        y: scale({ min: -0.49, max: 21.44, majors: gTraits.map((_, i) => i + 1), reverse: true, fmt: (v) => gTraits[v - 1], size: 55, font: 9 }, false),
      },
    },
    plugins: [
      errorBars(gLow, gHigh, cols, 2.8),
      vDash('#000000', [3, 3]),
      {
        id: 'gtext',
        afterDatasetsDraw(chart: any) {
          const { scales: { x, y } } = chart;
          txt(chart.ctx, 'rs1788097', x.getPixelForValue(0.0486), y.getPixelForValue(1), 15.5);
        },
      },
    ],
  };
};

const kbFmt = (v: number) => String(Math.round(v));
const bpMajors = [128400, 128500, 128600, 128700, 128800, 128900];
const bpMinors = [128450, 128550, 128650, 128750, 128850];
const R = 4.3;

const panelH = () => ({
  type: 'scatter',
  data: { datasets: [sc(hGray, GRAY, R), sc(hYellow, YELLOW, R), sc(hOrange, ORANGE, R), sc(hDark, DARK, R)] },
  options: {
    scales: {
      x: scale({ min: 128352.5, max: 128904, majors: bpMajors, minors: bpMinors, fmt: kbFmt, title: 'Chr 7 BP (kb)', titleFont: 10.5, font: 10, size: 36, pad: 9 }, true),
      y: scale({ min: -4.28, max: 94.6, majors: [0, 25, 50, 75], minors: [12.5, 37.5, 62.5, 87.5], title: 'IRF5 primary eQTL (\u2212logP)', titleFont: 10.5, size: 50 }, false),
    },
  },
  plugins: [{
    id: 'htext',
    afterDatasetsDraw(chart: any) {
      const { ctx, scales: { x, y } } = chart;
      const px = x.getPixelForValue(128630);
      txt(ctx, 'rs7796963', px, y.getPixelForValue(88.6), 15);
      ctx.save(); ctx.strokeStyle = '#000'; ctx.lineWidth = 1;
      ctx.beginPath(); ctx.moveTo(px, y.getPixelForValue(85.8)); ctx.lineTo(px, y.getPixelForValue(80.6)); ctx.stroke(); ctx.restore();
    },
  }],
});

const panelI = () => ({
  type: 'scatter',
  data: { datasets: [sc(iGray, GRAY, R), sc(iYellow, YELLOW, R), sc(iOrange, ORANGE, R), sc(iDark, DARK, R)] },
  options: {
    scales: {
      x: scale({ min: -2.15, max: 47.25, majors: [0, 10, 20, 30, 40], minors: [5, 15, 25, 35, 45], title: 'SLE GWAS (\u2212logP)', titleFont: 10.5, font: 10, size: 27, pad: 0 }, true),
      y: scale({ min: -3.9, max: 86.4, majors: [0, 20, 40, 60, 80], minors: [10, 30, 50, 70], title: 'IRF5 primary eQTL (\u2212logP)', titleFont: 10.5, size: 31 }, false),
    },
  },
  plugins: [cornerText('PP4=0.00', 9, 11, 12.5)],
});

const panelJ = () => ({
  type: 'scatter',
  data: { datasets: [sc(jGray, GRAY, R), sc(jYellow, YELLOW, R), sc(jDark, DARK, R)] },
  options: {
    scales: {
      x: scale({ min: 128352.5, max: 128907, majors: bpMajors, minors: bpMinors, fmt: kbFmt, title: 'Chr 7 BP (kb)', titleFont: 10.5, font: 10, size: 27, pad: 0 }, true),
      y: scale({ min: -0.667, max: 14.7, majors: [0, 5, 10], minors: [2.5, 7.5, 12.5], title: 'IRF5 secondary eQTL (\u2212logP)', titleFont: 10.5, size: 23 }, false),
    },
  },
  plugins: [cornerText('Conditioned: rs7796963', 17, 11, 12.5)],
});

const panelK = () => ({
  type: 'scatter',
  data: { datasets: [sc(kGray, GRAY, R), sc(kYellow, YELLOW, R), sc(kDark, DARK, R)] },
  options: {
    scales: {
      x: scale({ min: -2.27, max: 46.8, majors: [0, 10, 20, 30, 40], minors: [5, 15, 25, 35, 45], title: 'SLE GWAS (\u2212logP)', titleFont: 10.5, font: 10, size: 27, pad: 0 }, true),
      y: scale({ min: -0.71, max: 15.26, majors: [0, 5, 10, 15], minors: [2.5, 7.5, 12.5], title: 'IRF5 secondary eQTL (\u2212logP)', titleFont: 10.5, size: 31 }, false),
    },
  },
  plugins: [cornerText('PP4=0.95', 9, 11, 12.5)],
});

const panelLetters = [
  ['a', 48, 22], ['b', 377, 22], ['c', 693, 20], ['d', 48, 348], ['e', 294, 348], ['f', 527, 348],
  ['g', 748, 348], ['h', 48, 662], ['i', 304, 662], ['j', 530, 662], ['k', 762, 662],
];

export default function App() {
  return (
    <div style={{ position: 'absolute', left: 0, top: 0, width: 1063, height: 957, background: '#fff', overflow: 'hidden' }}>
      <ChartBox frame={[107, 42, 365, 296]} L={51} B={30} make={panelA} />
      <ChartBox frame={[422, 41, 682, 296]} L={40} B={30} make={panelB} />
      <ChartBox frame={[726, 42, 853, 296]} L={34} B={20} padT={21} padR={2} make={panelCLeft} />
      <ChartBox frame={[857, 42, 985, 296]} L={0} B={20} padT={21} padR={6} make={panelCRight} />
      <ChartBox frame={[107, 351, 283, 605]} L={52} B={33} make={panelD} />
      <ChartBox frame={[341, 351, 517, 605]} L={45} B={31} make={panelE} />
      <ChartBox frame={[561, 351, 737, 605]} L={28} B={33} make={panelF} />
      <ChartBox frame={[808, 351, 985, 605]} L={55} B={35} make={panelG} />
      <ChartBox frame={[107, 664, 293, 918]} L={50} B={36} padR={4} make={panelH} />
      <ChartBox frame={[336, 664, 520, 918]} L={31} B={27} make={panelI} />
      <ChartBox frame={[564, 664, 751, 918]} L={23} B={27} padR={3} make={panelJ} />
      <ChartBox frame={[798, 664, 986, 918]} L={31} B={27} make={panelK} />
      <svg width={1063} height={957} style={{ position: 'absolute', left: 0, top: 0, pointerEvents: 'none' }}>
        {panelLetters.map(([s, x, y]) => (
          <text key={s as string} x={x as number} y={y as number} fontFamily={FONT} fontSize={17} fill="#000">{s}</text>
        ))}
        <text x={855} y={322.5} fontFamily={FONT} fontSize={12.5} textAnchor="middle" fill="#000">Fold change</text>
        <rect x={32} y={10} width={983.5} height={319} rx={9} ry={9} fill="none" stroke="#f7281c" strokeWidth={4} />
        <line x1={18} y1={406} x2={100} y2={324} stroke="#f7281c" strokeWidth={4} />
        <polygon points="118,306 91.8,316.6 107.4,332.2" fill="#f7281c" />
      </svg>
    </div>
  );
}
